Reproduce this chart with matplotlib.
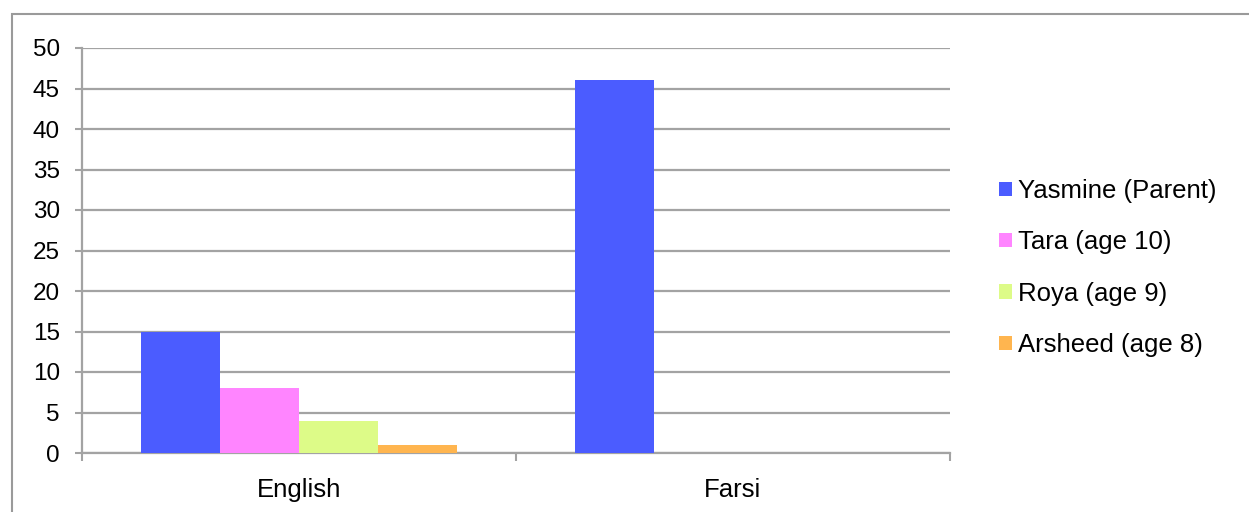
import numpy as np
import matplotlib.pyplot as plt
from matplotlib.patches import Rectangle

plt.rcParams['font.family'] = ['Liberation Sans', 'DejaVu Sans']

languages = ['English', 'Farsi']
speakers = ['Yasmine (Parent)', 'Tara (age 10)', 'Roya (age 9)', 'Arsheed (age 8)']
values = {
    'Yasmine (Parent)': [15, 46],
    'Tara (age 10)': [8, 0],
    'Roya (age 9)': [4, 0],
    'Arsheed (age 8)': [1, 0],
}
colors = ['#4b5cff', '#ff85ff', '#ddfb88', '#ffb54f']
grid_color = '#a3a3a3'

W, H = 1249, 512
fig = plt.figure(figsize=(W / 100, H / 100), dpi=100)
ax = fig.add_axes([82 / W, (H - 453) / H, (950 - 82) / W, (453 - 48) / H])

# outer frame
fig.patches.append(Rectangle((12 / W, -0.1), 1.2, 1 - 14 / H + 0.1,
                             transform=fig.transFigure, fill=False,
                             edgecolor='#9a9a9a', linewidth=1.5))

x = np.arange(len(languages))
bw = 0.182
for i, (name, c) in enumerate(zip(speakers, colors)):
    ax.bar(x + (i - 1.5) * bw, values[name], width=bw, color=c,
           label=name, zorder=3)

ax.set_xlim(-0.5, 1.5)
ax.set_ylim(0, 50)
ax.set_yticks(np.arange(0, 51, 5))
ax.yaxis.grid(True, color=grid_color, linewidth=1.6, zorder=0)
ax.set_xticks([-0.5, 0.5, 1.5])
ax.set_xticklabels([])
ax.set_xticks(x, minor=True)
ax.set_xticklabels(languages, minor=True)
ax.tick_params(axis='x', which='minor', length=0, pad=18, labelsize=18.5)
ax.tick_params(axis='x', which='major', length=6, color=grid_color, width=1.5)
ax.tick_params(axis='y', length=5, color=grid_color, width=1.5, labelsize=17.5, pad=11)

for s in ['top', 'right']:
    ax.spines[s].set_visible(False)
for s in ['left', 'bottom']:
    ax.spines[s].set_color(grid_color)
    ax.spines[s].set_linewidth(1.6)

fig.legend(loc='center left', bbox_to_anchor=(989 / W, 1 - 268 / H),
           frameon=False, fontsize=18.5, handlelength=0.48, handleheight=0.48,
           handletextpad=0.25, labelspacing=1.06, borderaxespad=0)

fig.savefig('out.png', dpi=100)
